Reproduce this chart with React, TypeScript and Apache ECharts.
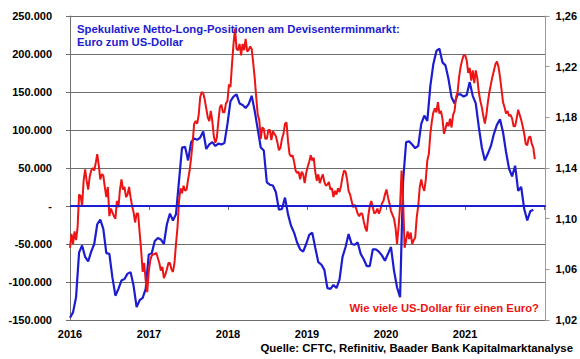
import React, { useEffect, useRef } from 'react';
import * as echarts from 'echarts';

// Observations start at the beginning of 2016
const START_YEAR = 2016;
const POSITION_STEP_DAYS = 14; // CFTC positions, every two weeks
const RATE_STEP_DAYS = 7; // EUR/USD, weekly

// Speculative net long positions (contracts), left axis
const netLongPositions = [
  -147000, -140000, -120000, -61000, -52000, -67000, -73000, -60000, -50000, -24000,
  -18000, -30000, -62000, -63000, -94000, -118000, -109000, -98000, -96000, -89000,
  -87000, -105000, -133000, -124000, -121000, -109000, -64000, -62000, -46000, -42000,
  -44000, -50000, -24000, -10000, -19000, -11000, 33000, 77000, 78000, 60000,
  84000, 89000, 87000, 90000, 98000, 75000, 81000, 84000, 79000, 82000,
  81000, 83000, 108000, 138000, 144000, 147000, 135000, 133000, 129000, 134000,
  145000, 125000, 101000, 77000, 73000, 31000, 28000, 27000, 18000, -5000,
  -4000, 11000, -11000, -26000, -35000, -48000, -57000, -60000, -50000, -38000,
  -35000, -55000, -74000, -77000, -84000, -108000, -109000, -104000, -108000, -97000,
  -67000, -54000, -37000, -50000, -51000, -48000, -63000, -70000, -79000, -79000,
  -57000, -57000, -60000, -65000, -72000, -63000, -54000, -85000, -107000, -120000,
  33000, 84000, 85000, 81000, 76000, 79000, 108000, 119000, 112000, 158000,
  187000, 204000, 207000, 189000, 185000, 167000, 143000, 135000, 147000, 147000,
  144000, 146000, 163000, 145000, 135000, 104000, 77000, 60000, 69000, 79000,
  95000, 107000, 114000, 97000, 71000, 49000, 39000, 53000, 20000, 25000,
  -4000, -19000, -7000, -5000,
];

// EUR/USD exchange rate, right axis
const eurUsd = [
  1.077, 1.088, 1.080, 1.090, 1.083, 1.093, 1.119, 1.118, 1.110, 1.130,
  1.139, 1.130, 1.123, 1.133, 1.138, 1.140, 1.138, 1.144, 1.151, 1.142,
  1.131, 1.135, 1.134, 1.125, 1.117, 1.125, 1.102, 1.108, 1.105, 1.102,
  1.100, 1.114, 1.109, 1.123, 1.131, 1.123, 1.125, 1.117, 1.119, 1.125,
  1.117, 1.110, 1.105, 1.097, 1.104, 1.104, 1.089, 1.075, 1.058, 1.065,
  1.051, 1.042, 1.058, 1.067, 1.071, 1.072, 1.072, 1.073, 1.069, 1.065,
  1.059, 1.062, 1.053, 1.056, 1.060, 1.065, 1.065, 1.060, 1.058, 1.065,
  1.080, 1.093, 1.114, 1.124, 1.120, 1.126, 1.122, 1.123, 1.131, 1.138,
  1.148, 1.160, 1.175, 1.177, 1.175, 1.182, 1.196, 1.200, 1.199, 1.194,
  1.187, 1.180, 1.177, 1.185, 1.177, 1.165, 1.160, 1.164, 1.177, 1.188,
  1.190, 1.184, 1.184, 1.191, 1.193, 1.206, 1.204, 1.222, 1.238, 1.250,
  1.234, 1.233, 1.238, 1.229, 1.238, 1.233, 1.242, 1.232, 1.233, 1.236,
  1.234, 1.223, 1.211, 1.196, 1.182, 1.178, 1.163, 1.172, 1.171, 1.163,
  1.163, 1.170, 1.170, 1.162, 1.169, 1.167, 1.165, 1.160, 1.154, 1.156,
  1.163, 1.167, 1.175, 1.176, 1.161, 1.151, 1.149, 1.150, 1.145, 1.138,
  1.136, 1.137, 1.131, 1.137, 1.135, 1.128, 1.136, 1.141, 1.145, 1.150,
  1.146, 1.148, 1.137, 1.130, 1.135, 1.128, 1.132, 1.135, 1.129, 1.126,
  1.127, 1.129, 1.123, 1.124, 1.117, 1.122, 1.119, 1.124, 1.121, 1.126,
  1.133, 1.138, 1.137, 1.131, 1.122, 1.119, 1.114, 1.109, 1.111, 1.108,
  1.104, 1.102, 1.104, 1.104, 1.098, 1.093, 1.090, 1.102, 1.110, 1.114,
  1.109, 1.104, 1.105, 1.108, 1.104, 1.107, 1.112, 1.114, 1.119, 1.123,
  1.117, 1.112, 1.106, 1.103, 1.100, 1.093, 1.080, 1.093, 1.110, 1.138,
  1.114, 1.077, 1.083, 1.090, 1.084, 1.089, 1.080, 1.083, 1.085, 1.101,
  1.110, 1.125, 1.131, 1.125, 1.122, 1.131, 1.146, 1.151, 1.167, 1.177,
  1.184, 1.187, 1.184, 1.192, 1.183, 1.185, 1.179, 1.167, 1.171, 1.176,
  1.173, 1.179, 1.172, 1.182, 1.185, 1.196, 1.200, 1.212, 1.220, 1.225,
  1.229, 1.229, 1.225, 1.215, 1.219, 1.209, 1.217, 1.207, 1.217, 1.211,
  1.200, 1.193, 1.188, 1.181, 1.175, 1.182, 1.192, 1.200, 1.206, 1.212,
  1.217, 1.222, 1.224, 1.220, 1.212, 1.202, 1.192, 1.188, 1.183, 1.185,
  1.181, 1.182, 1.179, 1.173, 1.173, 1.179, 1.186, 1.182, 1.178, 1.173,
  1.167, 1.159, 1.158, 1.164, 1.165, 1.159, 1.156, 1.147,
];

const titleText = 'Spekulative Netto-Long-Positionen am Devisenterminmarkt:\nEuro zum US-Dollar';
const rateNote = 'Wie viele US-Dollar für einen Euro?';
const sourceNote = 'Quelle: CFTC, Refinitiv, Baader Bank Kapitalmarktanalyse';

const FONT = '"Liberation Sans", Arial, sans-serif';
const BLUE = '#1c1cd0';
const RED = '#ec1414';
const GRID = '#6e6e6e';

const toYear = (i: number, stepDays: number) => START_YEAR + (i * stepDays) / 365.25;

const fmtThousands = (v: number) => {
  if (v === 0) return '-';
  const s = Math.abs(Math.round(v)).toString().replace(/\B(?=(\d{3})+(?!\d))/g, '.');
  return (v < 0 ? '-' : '') + s;
};

export default function App() {
  const ref = useRef<HTMLDivElement>(null);
  useEffect(() => {
    if (!ref.current) return;
    const chart = echarts.init(ref.current, undefined, { renderer: 'svg' });
    const labelStyle = { color: '#000', fontFamily: FONT, fontWeight: 'bold' as const, fontSize: 11 };
    chart.setOption({
      animation: false,
      backgroundColor: '#fff',
      title: {
        text: titleText,
        left: 72,
        top: 17,
        textStyle: { color: BLUE, fontFamily: FONT, fontWeight: 'bold', fontSize: 11.3, lineHeight: 13 },
      },
      grid: { left: 70, right: 33, top: 16, bottom: 39, containLabel: false },
      xAxis: {
        type: 'value',
        min: 2016,
        max: 2022.02,
        interval: 1,
        axisLine: { show: true, lineStyle: { color: GRID, width: 1 } },
        axisTick: { show: true, length: 4, lineStyle: { color: GRID } },
        splitLine: { show: false },
        axisLabel: {
          ...labelStyle,
          margin: 8,
          showMaxLabel: false,
          formatter: (v: number) => (v >= 2022 ? '' : String(Math.round(v))),
        },
      },
      yAxis: [
        {
          type: 'value',
          min: -150000,
          max: 250000,
          interval: 50000,
          position: 'left',
          axisLine: { show: true, lineStyle: { color: GRID, width: 1 } },
          axisTick: { show: true, length: 4, lineStyle: { color: GRID } },
          splitLine: { show: true, lineStyle: { color: GRID, width: 1 } },
          axisLabel: { ...labelStyle, margin: 18, formatter: fmtThousands },
        },
        {
          type: 'value',
          min: 1.02,
          max: 1.26,
          interval: 0.04,
          position: 'right',
          axisLine: { show: true, lineStyle: { color: '#9a9a9a', width: 1 } },
          axisTick: { show: true, length: 4, lineStyle: { color: '#9a9a9a' } },
          splitLine: { show: false },
          axisLabel: {
            ...labelStyle,
            margin: 10,
            formatter: (v: number) => v.toFixed(2).replace('.', ','),
          },
        },
      ],
      series: [
        {
          type: 'line',
          yAxisIndex: 0,
          data: netLongPositions.map((v, i) => [toYear(i, POSITION_STEP_DAYS), v]),
          showSymbol: false,
          lineStyle: { color: BLUE, width: 2.2 },
          itemStyle: { color: BLUE },
          z: 3,
          markLine: {
            silent: true,
            symbol: 'none',
            label: { show: false },
            lineStyle: { color: BLUE, width: 2, type: 'solid' },
            data: [{ yAxis: 0 }],
          },
        },
        {
          type: 'line',
          yAxisIndex: 1,
          data: eurUsd.map((v, i) => [toYear(i, RATE_STEP_DAYS), v]),
          showSymbol: false,
          lineStyle: { color: RED, width: 2 },
          itemStyle: { color: RED },
          z: 4,
        },
      ],
      graphic: [
        {
          type: 'text',
          x: 539,
          y: 308,
          style: {
            text: rateNote,
            fill: RED,
            font: `bold 11.3px ${FONT}`,
            textAlign: 'right',
            textVerticalAlign: 'middle',
          },
        },
        {
          type: 'text',
          x: 573,
          y: 348,
          style: {
            text: sourceNote,
            fill: '#000',
            font: `bold 11.4px ${FONT}`,
            textAlign: 'right',
            textVerticalAlign: 'middle',
          },
        },
      ],
    });
    return () => chart.dispose();
  }, []);
  return (
    <div
      ref={ref}
      style={{ position: 'absolute', left: 0, top: 0, width: 580, height: 359 }}
    />
  );
}
